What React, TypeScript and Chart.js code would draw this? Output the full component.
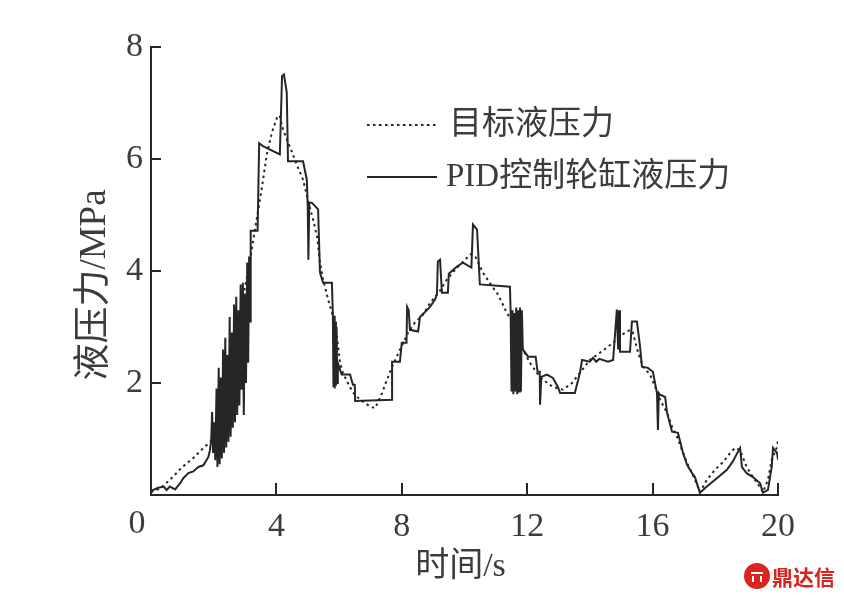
import React, { useEffect, useRef } from "react";
import { Chart, registerables } from "chart.js";

Chart.register(...registerables);

// ---- data (time in s, pressure in MPa) ----
const targetTime = [
  0, 0.3, 0.6, 1.0, 1.35, 1.67, 1.9, 2.2, 2.5, 2.85, 3.1, 3.32, 3.54, 3.7, 3.86, 4.02, 4.1, 4.2, 4.33, 4.5,
  4.65, 4.85, 5.0, 5.17, 5.3, 5.39, 5.49, 5.65, 5.77, 5.93, 6.03, 6.12, 6.28, 6.44, 6.67, 6.99, 7.15, 7.37, 7.52, 7.69,
  7.94, 8.2, 8.42, 8.68, 8.9, 9.06, 9.22, 9.44, 9.76, 10.02, 10.2, 10.35, 10.59, 10.8, 11.07, 11.2, 11.35, 11.6, 11.87, 12.09,
  12.31, 12.5, 12.82, 13.14, 13.43, 13.68, 14.0, 14.32, 14.58, 14.74, 15.02, 15.28, 15.37, 15.54, 15.7, 15.92, 16.08, 16.24, 16.46, 16.62,
  16.78, 16.94, 17.1, 17.26, 17.42, 17.51, 17.73, 17.99, 18.25, 18.47, 18.63, 18.79, 19.0, 19.2, 19.43, 19.52, 19.68, 19.8, 19.97, 20.0,
];
const targetPressure = [
  0.05, 0.12, 0.27, 0.5, 0.66, 0.84, 0.95, 1.4, 2.4, 3.3, 4.0, 4.75, 5.5, 6.1, 6.48, 6.74, 6.78, 6.55, 6.35, 6.12,
  5.9, 5.63, 5.28, 4.92, 4.6, 4.15, 3.85, 3.49, 3.26, 2.83, 2.36, 2.18, 2.0, 1.83, 1.7, 1.58, 1.55, 1.82, 2.05, 2.29,
  2.59, 2.9, 3.08, 3.22, 3.43, 3.54, 3.65, 3.85, 4.06, 4.2, 4.3, 4.25, 3.97, 3.79, 3.58, 3.43, 3.25, 3.04, 2.59, 2.36,
  2.18, 2.06, 1.93, 1.88, 2.0, 2.18, 2.41, 2.54, 2.65, 2.72, 2.86, 2.95, 2.9, 2.54, 2.29, 2.15, 1.93, 1.7, 1.47, 1.22,
  1.04, 0.8, 0.57, 0.39, 0.18, 0.05, 0.27, 0.45, 0.59, 0.75, 0.84, 0.8, 0.5, 0.32, 0.14, 0.05, 0.27, 0.63, 0.86, 0.98,
];

const pidTime = [
  0, 0.06, 0.23, 0.4, 0.5, 0.6, 0.77, 0.93, 1.03, 1.19, 1.35, 1.51, 1.67, 1.83, 1.88, 1.92,
  1.95, 1.98, 2.02, 2.05, 2.09, 2.12, 2.16, 2.19, 2.23, 2.26, 2.3, 2.33, 2.37, 2.4, 2.44, 2.47,
  2.51, 2.54, 2.58, 2.61, 2.65, 2.68, 2.72, 2.75, 2.79, 2.82, 2.86, 2.89, 2.93, 2.96, 3.0, 3.03,
  3.07, 3.1, 3.13, 3.16, 3.18, 3.4, 3.45, 3.57, 4.11, 4.18, 4.24, 4.33, 4.37, 4.85, 4.97, 5.0,
  5.02, 5.05, 5.13, 5.33, 5.39, 5.49, 5.77, 5.8, 5.82, 5.84, 5.86, 5.88, 5.9, 5.92, 5.94, 5.96,
  6.08, 6.35, 6.44, 6.5, 6.51, 7.69, 7.69, 7.94, 8.0, 8.15, 8.17, 8.22, 8.26, 8.52, 8.58, 8.9,
  9.06, 9.12, 9.15, 9.22, 9.28, 9.47, 9.5, 9.76, 9.95, 10.22, 10.27, 10.4, 10.49, 11.45, 11.47, 11.5,
  11.53, 11.56, 11.59, 11.62, 11.65, 11.68, 11.71, 11.74, 11.77, 11.8, 11.83, 11.86, 12.03, 12.27, 12.33, 12.4,
  12.41, 12.45, 12.63, 12.82, 12.98, 13.05, 13.52, 13.68, 13.75, 14.0, 14.1, 14.2, 14.3, 14.58, 14.74, 14.86,
  14.9, 14.93, 14.96, 15.02, 15.28, 15.34, 15.5, 15.6, 15.66, 15.85, 16.01, 16.14, 16.17, 16.2, 16.24, 16.4,
  16.46, 16.62, 16.81, 16.97, 17.1, 17.26, 17.35, 17.51, 17.73, 18.05, 18.37, 18.56, 18.72, 18.79, 18.85, 19.0,
  19.2, 19.43, 19.52, 19.68, 19.8, 19.84, 19.97, 20.0,
];
const pidPressure = [
  0.05, 0.09, 0.13, 0.15, 0.09, 0.15, 0.1, 0.21, 0.3, 0.39, 0.42, 0.5, 0.53, 0.68, 0.8, 0.98,
  1.48, 0.75, 1.3, 0.62, 1.9, 0.5, 2.27, 0.55, 2.1, 0.65, 2.6, 0.75, 2.81, 0.85, 2.5, 0.95,
  3.18, 1.04, 2.9, 1.2, 3.4, 1.3, 3.54, 1.43, 3.3, 1.6, 3.76, 1.88, 3.79, 1.43, 3.6, 2.0,
  4.15, 2.36, 4.26, 3.1, 4.72, 4.72, 6.28, 6.23, 6.08, 7.48, 7.51, 7.19, 5.96, 5.96, 5.63, 5.15,
  4.2, 5.22, 5.22, 5.1, 3.97, 3.79, 3.79, 3.26, 1.93, 3.2, 1.9, 3.1, 1.95, 3.0, 2.0, 2.36,
  2.15, 2.15, 1.97, 1.97, 1.68, 1.7, 2.38, 2.38, 2.72, 2.72, 3.36, 3.3, 2.95, 2.92, 3.18, 3.36,
  3.49, 3.58, 4.17, 4.2, 3.61, 3.61, 3.95, 4.08, 4.15, 4.06, 4.83, 4.74, 3.76, 3.72, 3.3, 1.85,
  3.3, 1.8, 3.25, 1.85, 3.35, 1.8, 3.3, 1.85, 3.35, 1.85, 3.3, 2.6, 2.47, 2.47, 2.2, 2.2,
  1.61, 2.11, 2.15, 2.09, 1.93, 1.82, 1.82, 2.18, 2.41, 2.38, 2.45, 2.38, 2.43, 2.38, 2.41, 3.31,
  2.6, 3.3, 2.56, 2.56, 2.56, 3.1, 3.1, 2.65, 2.29, 2.27, 2.2, 1.82, 1.16, 1.82, 1.79, 1.75,
  1.47, 1.13, 1.11, 0.75, 0.54, 0.39, 0.32, 0.04, 0.15, 0.3, 0.45, 0.6, 0.77, 0.84, 0.5, 0.39,
  0.32, 0.21, 0.04, 0.09, 0.5, 0.84, 0.75, 0.63,
];

const xTicks = [0, 4, 8, 12, 16, 20];
const yTicks = [0, 2, 4, 6, 8];
const originLabel = "0";
const legendLabels = ["目标液压力", "PID控制轮缸液压力"];
const xTitle = "时间/s";
const yTitle = "液压力/MPa";
const watermark = "鼎达信";

const INK = "#262626";
const TEXT = "#3c3c3c";
const SERIF = "'Liberation Serif', 'Noto Sans CJK SC', serif";
const TICK_SIZE = 34;

const decorPlugin = {
  id: "decor",
  afterDraw(chart: any) {
    const { ctx, chartArea } = chart;
    const { left, top, bottom } = chartArea;
    const xs = chart.scales.x;
    const ys = chart.scales.y;
    ctx.save();
    // inward tick marks
    ctx.strokeStyle = INK;
    ctx.lineWidth = 2;
    ctx.beginPath();
    yTicks.forEach((v) => {
      if (v === 0) return;
      const py = Math.round(ys.getPixelForValue(v));
      ctx.moveTo(left, py);
      ctx.lineTo(left + 10, py);
    });
    xTicks.forEach((v) => {
      if (v === 0) return;
      const px = Math.round(xs.getPixelForValue(v));
      ctx.moveTo(px, bottom);
      ctx.lineTo(px, bottom - 12);
    });
    ctx.stroke();

    // shared origin label
    ctx.fillStyle = TEXT;
    ctx.font = `${TICK_SIZE}px ${SERIF}`;
    ctx.textAlign = "center";
    ctx.textBaseline = "top";
    ctx.fillText(originLabel, left - 14, bottom + 12);

    // legend
    const lx0 = left + 216;
    const lx1 = left + 286;
    const ly1 = top + 78;
    const ly2 = top + 130;
    ctx.lineWidth = 2;
    ctx.setLineDash([2.5, 3.5]);
    ctx.beginPath();
    ctx.moveTo(lx0, ly1);
    ctx.lineTo(lx1, ly1);
    ctx.stroke();
    ctx.setLineDash([]);
    ctx.lineWidth = 2;
    ctx.beginPath();
    ctx.moveTo(lx0, ly2);
    ctx.lineTo(lx1, ly2);
    ctx.stroke();
    ctx.fillStyle = TEXT;
    ctx.font = `33px ${SERIF}`;
    ctx.textBaseline = "middle";
    ctx.textAlign = "left";
    ctx.fillText(legendLabels[0], lx1 + 12, ly1);
    ctx.fillText(legendLabels[1], lx1 + 9, ly2);

    // axis titles
    ctx.font = `34px ${SERIF}`;
    ctx.textAlign = "center";
    ctx.fillText(xTitle, (left + chartArea.right) / 2 - 4, bottom + 72);
    ctx.save();
    ctx.translate(left - 56, (top + bottom) / 2 + 14);
    ctx.rotate(-Math.PI / 2);
    ctx.font = `37px ${SERIF}`;
    ctx.fillText(yTitle, 0, 0);
    ctx.restore();

    // watermark
    const wx = chart.width - 87;
    const wy = chart.height - 23;
    ctx.fillStyle = "#d9251d";
    ctx.beginPath();
    ctx.arc(wx, wy, 13, 0, Math.PI * 2);
    ctx.fill();
    ctx.fillStyle = "#ffffff";
    ctx.fillRect(wx - 6, wy - 4, 12, 2);
    ctx.fillRect(wx - 5, wy, 2, 6);
    ctx.fillRect(wx + 3, wy, 2, 6);
    ctx.fillStyle = "#d9251d";
    ctx.font = `bold 21px 'Noto Sans CJK SC', sans-serif`;
    ctx.textAlign = "left";
    ctx.fillText(watermark, wx + 15, wy + 1);
    ctx.restore();
  },
};

export default function App() {
  const ref = useRef<HTMLCanvasElement | null>(null);
  useEffect(() => {
    if (!ref.current) return;
    const chart = new Chart(ref.current, {
      type: "line",
      data: {
        datasets: [
          {
            label: legendLabels[0],
            data: targetTime.map((t, i) => ({ x: t, y: targetPressure[i] })),
            borderColor: INK,
            borderWidth: 2,
            borderDash: [2.5, 3.5],
            pointRadius: 0,
            tension: 0,
            fill: false,
          },
          {
            label: legendLabels[1],
            data: pidTime.map((t, i) => ({ x: t, y: pidPressure[i] })),
            borderColor: INK,
            borderWidth: 2,
            pointRadius: 0,
            tension: 0,
            fill: false,
          },
        ],
      },
      options: {
        animation: false,
        responsive: true,
        maintainAspectRatio: false,
        layout: { padding: { left: 0, top: 47, right: 66, bottom: 0 } },
        plugins: { legend: { display: false }, tooltip: { enabled: false } },
        scales: {
          x: {
            type: "linear",
            min: 0,
            max: 20,
            afterFit: (s: any) => {
              s.height = 104;
            },
            afterBuildTicks: (s: any) => {
              s.ticks = xTicks.map((v) => ({ value: v }));
            },
            grid: { display: true, drawOnChartArea: false, drawTicks: false },
            border: { display: true, color: INK, width: 2 },
            ticks: {
              color: TEXT,
              padding: 12,
              maxRotation: 0,
              font: { family: SERIF, size: TICK_SIZE },
              callback: (v: any) => (v === 0 ? "" : String(v)),
            },
          },
          y: {
            type: "linear",
            min: 0,
            max: 8,
            afterFit: (s: any) => {
              s.width = 151;
            },
            afterBuildTicks: (s: any) => {
              s.ticks = yTicks.map((v) => ({ value: v }));
            },
            grid: { display: true, drawOnChartArea: false, drawTicks: false },
            border: { display: true, color: INK, width: 2 },
            ticks: {
              color: TEXT,
              padding: 8,
              font: { family: SERIF, size: TICK_SIZE },
              callback: (v: any) => (v === 0 ? "" : String(v)),
            },
          },
        },
      },
      plugins: [decorPlugin],
    });
    return () => chart.destroy();
  }, []);
  return (
    <div style={{ position: "fixed", left: 0, top: 0, width: 844, height: 599, background: "#fff" }}>
      <canvas ref={ref} />
    </div>
  );
}
